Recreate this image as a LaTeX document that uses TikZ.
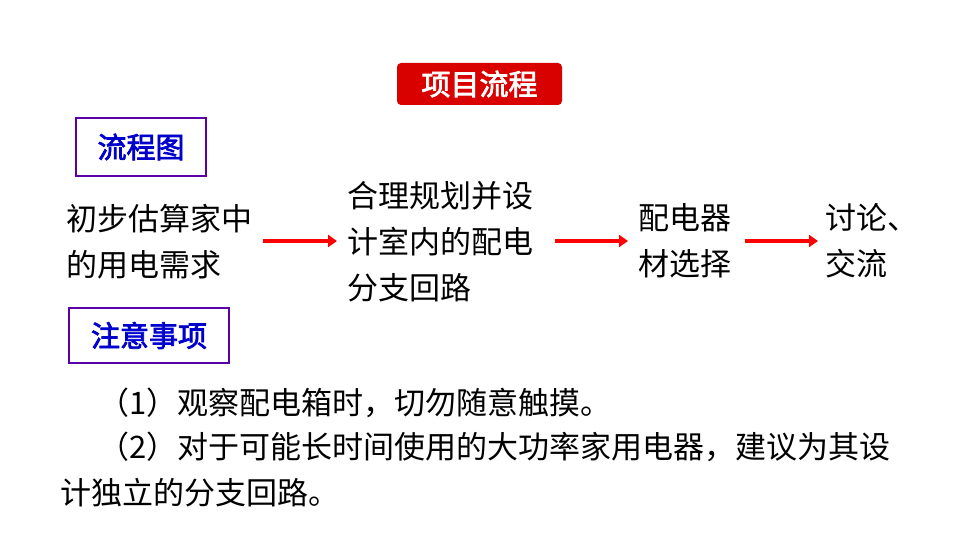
\documentclass[tikz,border=0pt]{standalone}
\usepackage{fontspec}
\newfontfamily\cjk[AutoFakeBold=2.5]{Noto Sans CJK SC}
\usetikzlibrary{arrows.meta}
\begin{document}
\begin{tikzpicture}[x=1pt,y=-1pt,
  txt/.style={font=\cjk\fontsize{31}{46}\selectfont, align=left, inner sep=0, anchor=west},
  lbl/.style={draw=violet!70!blue, line width=2pt, font=\cjk\bfseries\fontsize{29}{30}\selectfont, text=blue!80!black, minimum height=58, inner xsep=8},
  arr/.style={-{Triangle[length=9,width=12]}, draw=red, line width=4pt}]
\useasboundingbox (0,0) rectangle (960,540);
\node[fill=red!85!black, rounded corners=4, text=white, font=\cjk\bfseries\fontsize{29}{30}\selectfont, minimum width=165, minimum height=42] (title) at (479.5,84) {项目流程};
\node[lbl, anchor=north west, minimum width=130] (flow) at (75,117) {流程图};
\node[lbl, anchor=north west, minimum width=160, minimum height=55] (note) at (68,307) {注意事项};
\node[txt] (a) at (66,242) {初步估算家中\\的用电需求};
\node[txt] (b) at (347,242) {合理规划并设\\计室内的配电\\分支回路};
\node[txt] (c) at (638,241) {配电器\\材选择};
\node[txt] (d) at (825,241) {讨论、\\交流};
\draw[arr] (263,241) -- (337,241);
\draw[arr] (555,241) -- (628,241);
\draw[arr] (745,241) -- (818,241);
\node[txt] (n1) at (98,403) {（1）观察配电箱时，切勿随意触摸。};
\node[txt] (n2) at (98,447) {（2）对于可能长时间使用的大功率家用电器，建议为其设};
\node[txt] (n3) at (60,493) {计独立的分支回路。};
\end{tikzpicture}
\end{document}
